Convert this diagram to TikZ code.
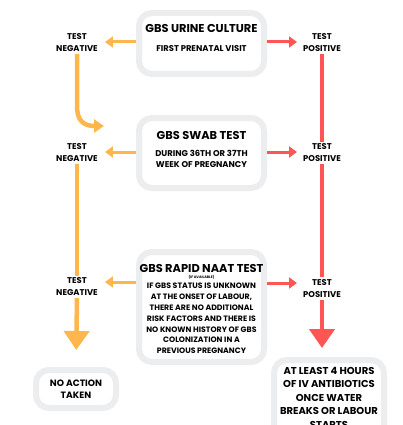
\documentclass[tikz,border=0pt]{standalone}
\usepackage{fontspec}
\setmainfont{Poppins}[BoldFont={Poppins Bold}]
\usetikzlibrary{arrows.meta}
\definecolor{og}{HTML}{FFB74D}
\definecolor{rd}{HTML}{FF5555}
\definecolor{bx}{HTML}{ECEDEF}
\tikzset{
  box/.style={draw=bx, line width=6pt, rounded corners=13pt, fill=white, inner sep=0pt},
  ttl/.style={font=\fontsize{11.4}{12}\selectfont\bfseries, inner sep=1pt},
  sub/.style={font=\fontsize{8.4}{11.5}\selectfont\bfseries, align=center, inner sep=1pt},
  lbl/.style={font=\fontsize{8.4}{12}\selectfont\bfseries, align=center, inner sep=2pt},
  big/.style={font=\fontsize{10}{13.5}\selectfont\bfseries, align=center, inner sep=1pt},
  osm/.style={draw=og, line width=3pt, -{Triangle[width=11pt,length=8pt]}},
  rsm/.style={draw=rd, line width=3pt, -{Triangle[width=11pt,length=8pt]}},
  oline/.style={draw=og, line width=4.5pt},
  rline/.style={draw=rd, line width=4.5pt},
  obig/.style={draw=og, line width=4.5pt, -{Triangle[width=25pt,length=19pt]}},
  rbig/.style={draw=rd, line width=4.5pt, -{Triangle[width=25pt,length=19pt]}},
  ocurve/.style={draw=og, line width=4.5pt, -{Triangle[width=13pt,length=10pt]}}
}
\begin{document}
\begin{tikzpicture}[x=1pt,y=-1pt]
\useasboundingbox (0,0) rectangle (403,425);
\clip (0,0) rectangle (403,425);
\fill[white] (0,0) rectangle (403,425);

% boxes
\node[box, minimum width=125pt, minimum height=61pt] (b1) at (201.5,43.5) {};
\node[box, minimum width=125pt, minimum height=70pt] (b2) at (201.5,153) {};
\node[box, minimum width=125pt, minimum height=110pt] (b3) at (201.5,307) {};
\node[box, minimum width=80pt, minimum height=38pt] (na) at (76,389) {};
\node[box, minimum width=110pt, minimum height=90pt] (fb) at (329,405) {};

% box texts
\node[ttl] (t1) at (201.5,28) {GBS URINE CULTURE};
\node[sub] (s1) at (201.5,49) {FIRST PRENATAL VISIT};
\node[ttl] (t2) at (201.5,135) {GBS SWAB TEST};
\node[sub] (s2) at (201.5,159) {DURING 36TH OR 37TH\\WEEK OF PREGNANCY};
\node[ttl] (t3) at (201.5,268) {GBS RAPID NAAT TEST};
\node[font=\fontsize{3.5}{4}\selectfont\bfseries, inner sep=0pt] (a3) at (201.5,277) {(IF AVAILABLE)};
\node[sub, font=\fontsize{7.8}{10.8}\selectfont\bfseries] (s3) at (201.5,318.5) {IF GBS STATUS IS UNKNOWN\\AT THE ONSET OF LABOUR,\\THERE ARE NO ADDITIONAL\\RISK FACTORS AND THERE IS\\NO KNOWN HISTORY OF GBS\\COLONIZATION IN A\\PREVIOUS PREGNANCY};
\node[lbl, font=\fontsize{9.2}{12}\selectfont\bfseries] (nat) at (76,389) {NO ACTION\\TAKEN};
\node[big, anchor=north] (ft) at (329,366) {AT LEAST 4 HOURS\\OF IV ANTIBIOTICS\\ONCE WATER\\BREAKS OR LABOUR\\STARTS};

% side labels
\node[lbl] (n1) at (77,43) {TEST\\NEGATIVE};
\node[lbl] (n2) at (77,153) {TEST\\NEGATIVE};
\node[lbl] (n3) at (77,287) {TEST\\NEGATIVE};
\node[lbl] (p1) at (322,43) {TEST\\POSITIVE};
\node[lbl] (p2) at (322,153) {TEST\\POSITIVE};
\node[lbl] (p3) at (322,288.5) {TEST\\POSITIVE};

% horizontal arrows
\draw[osm, shorten >=5pt] ([yshift=1.5pt]b1.west) -- ([yshift=1pt]n1.east);
\draw[rsm, shorten >=4pt] ([yshift=1.5pt]b1.east) -- ([yshift=1pt]p1.west);
\draw[osm, shorten >=5pt] ([yshift=1pt]b2.west) -- ([yshift=1pt]n2.east);
\draw[rsm, shorten >=4pt] ([yshift=1pt]b2.east) -- ([yshift=1pt]p2.west);
\draw[osm, shorten >=5pt] ([yshift=25pt]b3.west) -- ([yshift=5pt]n3.east);
\draw[rsm, shorten >=4pt] ([yshift=24pt]b3.east) -- ([yshift=5.5pt]p3.west);

% verticals
\coordinate (c1) at (104,126);
\draw[ocurve] (n1.south) -- (77,106) .. controls (77,121) and (84,126) .. (c1);
\draw[oline] (n2.south) -- (n3.north);
\draw[obig, shorten >=17pt] (n3.south) -- (na.north);
\draw[rline] (p1.south) -- (p2.north);
\draw[rline] (p2.south) -- (p3.north);
\draw[rbig, shorten >=9pt] (p3.south) -- (p3.south |- fb.north);
\end{tikzpicture}
\end{document}
